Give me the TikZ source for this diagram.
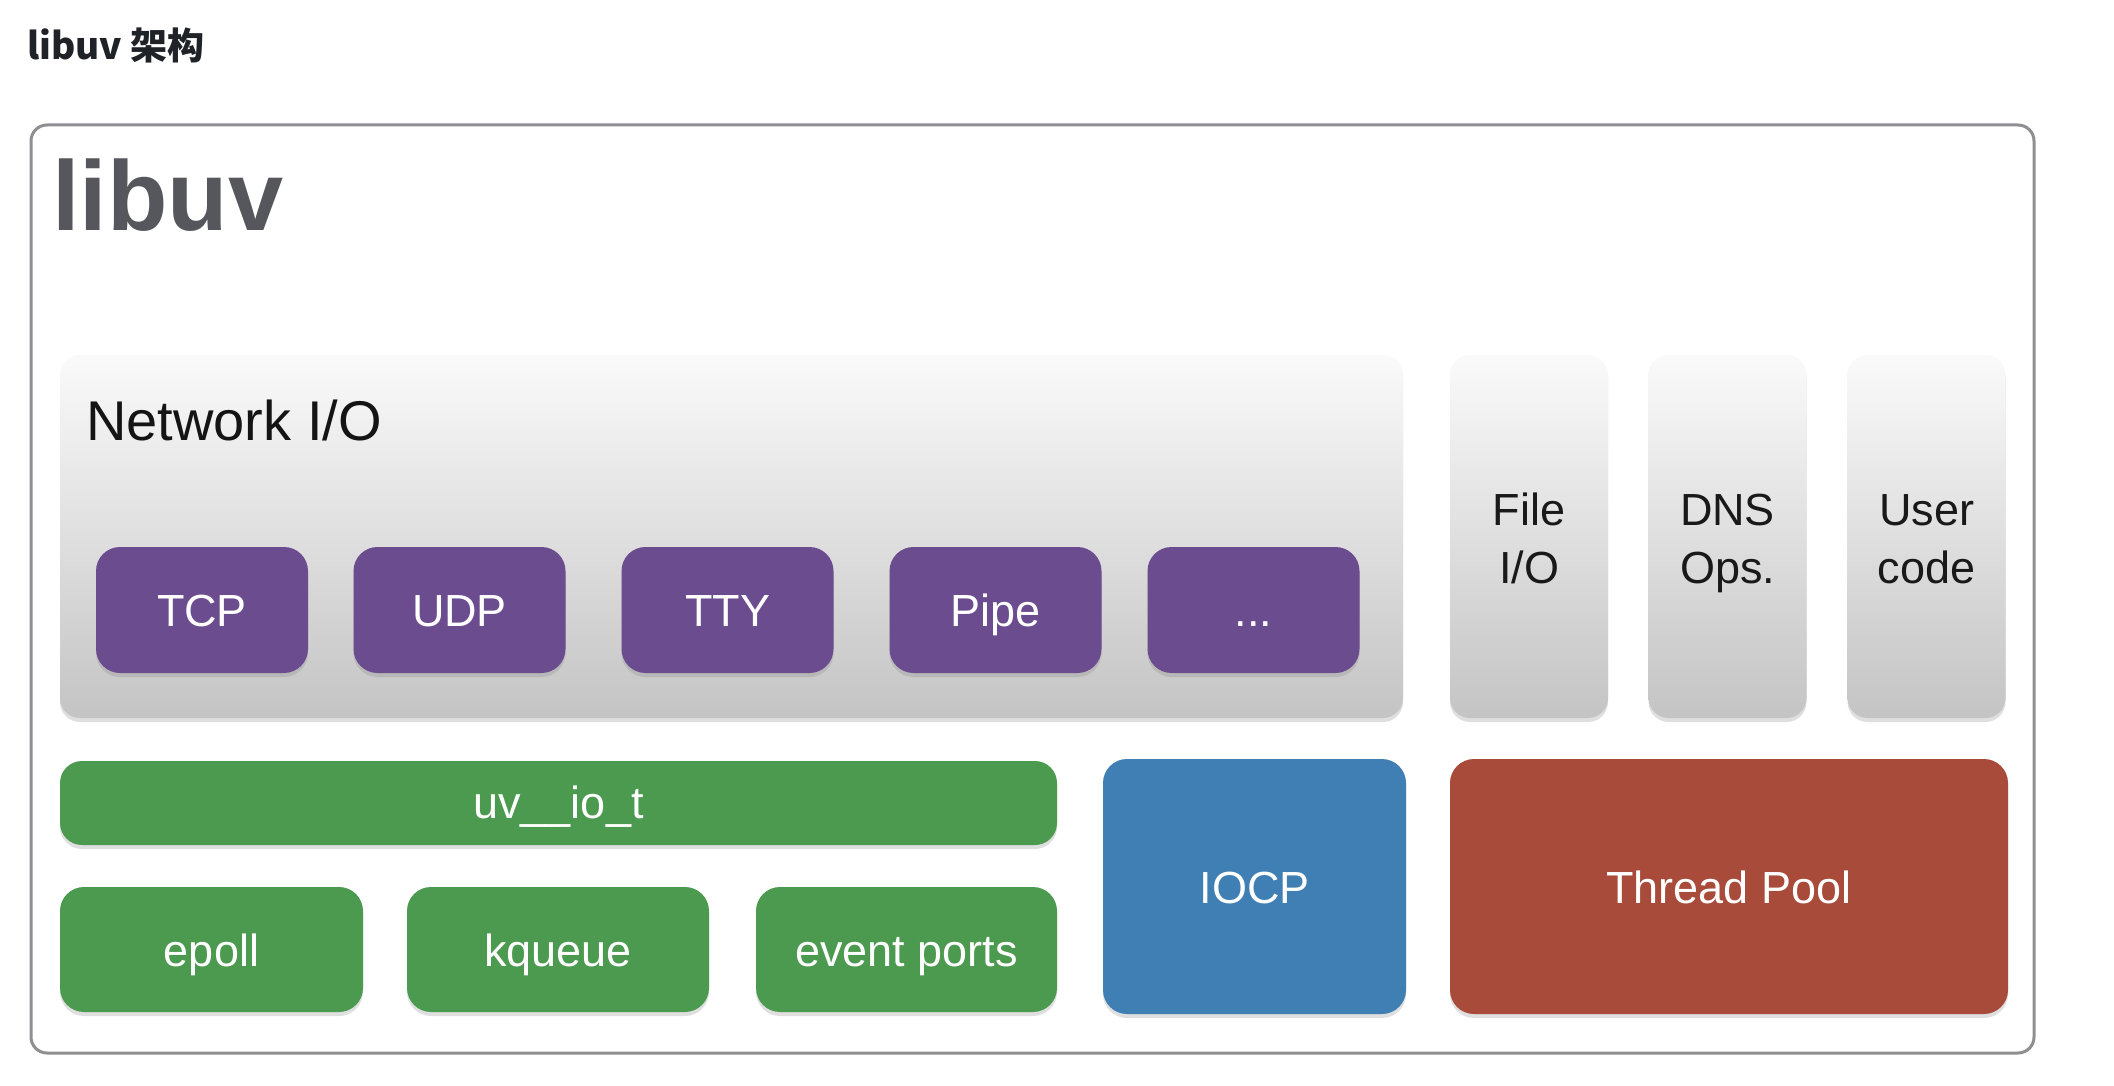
\documentclass[tikz,border=0pt]{standalone}
\usepackage{fontspec}
\setmainfont{Liberation Sans}
\newfontfamily\cjk{Noto Sans CJK SC}
\usetikzlibrary{shadows}
\definecolor{purp}{HTML}{6A4C8F}
\definecolor{grn}{HTML}{4C9A4F}
\definecolor{blu}{HTML}{3F7FB3}
\definecolor{redb}{HTML}{A84B3A}
\definecolor{outerg}{HTML}{8E8E93}
\definecolor{gtop}{HTML}{FAFAFA}
\definecolor{gbot}{HTML}{C4C4C4}
\definecolor{titlec}{HTML}{1F2328}
\definecolor{bigc}{HTML}{55575D}
\newcommand{\lnstrut}{\rule[-10pt]{0pt}{55pt}}
\tikzset{
  outerbox/.style={draw=outerg, line width=3pt, rounded corners=16pt, fill=white, inner sep=0pt, outer sep=0pt},
  panel/.style={rounded corners=20pt, top color=gtop, bottom color=gbot, inner sep=0pt, outer sep=0pt,
    drop shadow={opacity=0.25, shadow xshift=0pt, shadow yshift=-4pt},
    font=\fontsize{45}{58}\selectfont, text=black!90, align=center},
  colbox/.style={rounded corners=24pt, text=white, inner sep=0pt, outer sep=0pt,
    font=\fontsize{45}{58}\selectfont, text height=33pt, text depth=0pt,
    drop shadow={opacity=0.25, shadow xshift=0pt, shadow yshift=-4pt}},
  purpbox/.style={colbox, fill=purp, minimum width=212pt, minimum height=126pt},
  grnbox/.style={colbox, fill=grn, minimum height=125pt},
}
\begin{document}
\begin{tikzpicture}[x=1pt,y=-1pt]
\useasboundingbox (0,0) rectangle (2114,1086);
\fill[white] (0,0) rectangle (2114,1086);

\node[anchor=base west, inner sep=0pt, text=titlec, font=\cjk\bfseries\fontsize{37}{40}\selectfont] (title) at (27,60) {libuv 架构};

\node[outerbox, minimum width=2003pt, minimum height=928pt] (outer) at (1032.5,589) {};

\node[anchor=base west, inner sep=0pt, text=bigc, font=\bfseries\fontsize{99}{110}\selectfont] (biglib) at (52,230) {libuv};

% Network I/O panel
\node[panel, minimum width=1343pt, minimum height=363pt] (net) at (731.5,536.5) {};
\node[anchor=base west, inner sep=0pt, text=black!92, font=\fontsize{56}{60}\selectfont] (netlabel) at (86,440) {Network I/O};

\node[purpbox] (tcp)  at (202,610)    {TCP};
\node[purpbox] (udp)  at (459.5,610)  {UDP};
\node[purpbox] (tty)  at (727.5,610)  {TTY};
\node[purpbox] (pipe) at (995.5,610)  {Pipe};
\node[purpbox] (dots) at (1253.5,610) {...};

% vertical panels
\node[panel, minimum width=158pt, minimum height=363pt] (file) at (1529,536.5)   {\lnstrut File\\\lnstrut I/O};
\node[panel, minimum width=158pt, minimum height=363pt] (dns)  at (1727.5,536.5) {\lnstrut DNS\\\lnstrut Ops.};
\node[panel, minimum width=158pt, minimum height=363pt] (user) at (1926.5,536.5) {\lnstrut User\\\lnstrut code};

% bottom layer
\node[colbox, fill=grn, minimum width=997pt, minimum height=84pt, rounded corners=22pt, text height=31pt] (uvio) at (558.5,803) {uv\_\_io\_t};
\node[grnbox, minimum width=303pt] (epoll)  at (211.5,949.5) {epoll};
\node[grnbox, minimum width=302pt] (kqueue) at (558,949.5)   {kqueue};
\node[grnbox, minimum width=301pt] (evport) at (906.5,949.5) {event ports};

\node[colbox, fill=blu, minimum width=303pt, minimum height=255pt] (iocp) at (1254.5,886.5) {IOCP};
\node[colbox, fill=redb, minimum width=558pt, minimum height=255pt] (tpool) at (1729,886.5) {Thread Pool};
\end{tikzpicture}
\end{document}
